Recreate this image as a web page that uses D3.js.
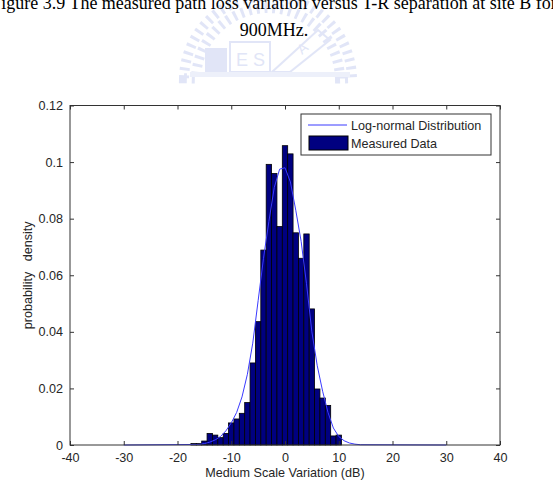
<!DOCTYPE html>
<html>
<head>
<meta charset="utf-8">
<script src="https://d3js.org/d3.v7.min.js"></script>
<style>
  body { margin: 0; background: #fff; }
  svg { display: block; }
  .caption { font-family: "Liberation Serif", "Times New Roman", serif; font-size: 18px; fill: #000; }
  .lbl { font-family: "Liberation Sans", Arial, sans-serif; font-size: 12.6px; fill: #262626; }
</style>
</head>
<body>
<div id="chart"></div>
<script>
// histogram bin centres (dB) and measured density
var binCenters = [-17, -16, -15, -14, -13, -12, -11, -10, -9, -8, -7, -6, -5, -4, -3, -2, -1, 0, 1, 2, 3, 4, 5, 6, 7, 8, 9, 10];
var density = [0.0005, 0.0005, 0.0014, 0.0041, 0.0035, 0.0026, 0.0041, 0.0078, 0.0092, 0.0112, 0.015, 0.029, 0.0436, 0.0689,
  0.0992, 0.096, 0.0772, 0.1058, 0.1029, 0.075, 0.066, 0.0746, 0.0481, 0.0198, 0.0166, 0.014, 0.0032, 0.0035];

// log-normal fit line
var curveX = [-30, -16, -15, -14, -13, -12, -11, -10, -9, -8, -7, -6, -5, -4, -3, -2, -1, 0, 1, 2, 3, 4, 5, 6, 7, 8, 9, 10, 11, 12, 13, 14, 30];
var curveY = [0, 0.0002, 0.0005, 0.001, 0.0018, 0.003, 0.005, 0.0078, 0.0115, 0.017, 0.025, 0.036, 0.051, 0.066, 0.079, 0.091,
  0.0975, 0.098, 0.093, 0.083, 0.072, 0.057, 0.04, 0.028, 0.019, 0.0115, 0.006, 0.003, 0.0015, 0.0007, 0.0003, 0.0001, 0];

var xTicks = [-40, -30, -20, -10, 0, 10, 20, 30, 40];
var xTickLabels = ["-40", "-30", "-20", "-10", "0", "10", "20", "30", "40"];
var yTicks = [0, 0.02, 0.04, 0.06, 0.08, 0.1, 0.12];
var yTickLabels = ["0", "0.02", "0.04", "0.06", "0.08", "0.1", "0.12"];
var legendLabels = ["Log-normal Distribution", "Measured Data"];

var width = 553,
  height = 480,
  margin = {left: 70, right: 53, top: 105.5, bottom: 35},
  svg = d3.select("#chart")
    .append("svg")
    .attr("width", width)
    .attr("height", height),
  xScale = d3.scaleLinear()
    .domain([-40, 40])
    .range([margin.left, width - margin.right]),
  yScale = d3.scaleLinear()
    .domain([0, 0.12])
    .range([height - margin.bottom, margin.top]);

// faint watermark logo behind the caption
var wm = svg.append("g").attr("opacity", 0.5);
wm.append("path")
  .attr("d", d3.arc()({innerRadius: 72, outerRadius: 84, startAngle: -1.55, endAngle: 1.55}))
  .attr("transform", "translate(268,80)")
  .attr("fill", "none")
  .attr("stroke", "#c4cdf0")
  .attr("stroke-width", 10)
  .attr("stroke-dasharray", "3,5");
wm.append("rect").attr("x", 205).attr("y", 48).attr("width", 22).attr("height", 24).attr("fill", "#c4cdf0");
wm.append("rect").attr("x", 230).attr("y", 42).attr("width", 40).attr("height", 30).attr("fill", "none").attr("stroke", "#c4cdf0").attr("stroke-width", 2);
wm.append("path").attr("d", "M272,72 L318,30 L330,40 L290,72 Z").attr("fill", "none").attr("stroke", "#c4cdf0").attr("stroke-width", 2);
wm.append("text").attr("x", 236).attr("y", 66).attr("font-family", "Liberation Sans").attr("font-size", 18).attr("fill", "#c4cdf0").text("E S");
wm.append("text").attr("x", 302).attr("y", 55).attr("font-family", "Liberation Sans").attr("font-size", 14).attr("fill", "#c4cdf0")
  .attr("transform", "rotate(-40,302,55)").text("A");
wm.append("rect").attr("x", 190).attr("y", 72).attr("width", 160).attr("height", 5).attr("fill", "#dde3f7");

// caption (first line runs off the page, as in the scanned original)
svg.append("text")
  .attr("class", "caption")
  .attr("x", 274)
  .attr("y", 9)
  .attr("text-anchor", "middle")
  .text("Figure 3.9 The measured path loss variation versus T-R separation at site B for");
svg.append("text")
  .attr("class", "caption")
  .attr("x", 274)
  .attr("y", 36)
  .attr("text-anchor", "middle")
  .text("900MHz.");

// plot background
svg.append("rect")
  .attr("x", margin.left)
  .attr("y", margin.top)
  .attr("width", xScale(40) - xScale(-40))
  .attr("height", yScale(0) - yScale(0.12))
  .attr("fill", "#fff");

var bars = binCenters.map(function (c, i) { return {c: c, v: density[i]}; });

svg.append("g").selectAll("rect")
  .data(bars)
  .enter()
  .append("rect")
  .attr("x", function (d) { return xScale(d.c - 0.5); })
  .attr("width", function (d) { return xScale(d.c + 0.5) - xScale(d.c - 0.5); })
  .attr("y", function (d) { return yScale(d.v); })
  .attr("height", function (d) { return yScale(0) - yScale(d.v); })
  .attr("fill", "#000080")
  .attr("stroke", "#000")
  .attr("stroke-width", 0.8);

var line = d3.line()
  .x(function (d) { return xScale(d[0]); })
  .y(function (d) { return yScale(d[1]); });

svg.append("path")
  .datum(curveX.map(function (x, i) { return [x, curveY[i]]; }))
  .attr("d", line)
  .attr("fill", "none")
  .attr("stroke", "#3a3aff")
  .attr("stroke-width", 1);

// axes, ticks pointing inward on all four sides
var tickLen = 4;
svg.append("g")
  .attr("transform", "translate(0," + yScale(0) + ")")
  .call(d3.axisBottom(xScale).tickValues(xTicks).tickSizeInner(-tickLen).tickSizeOuter(0).tickPadding(8)
    .tickFormat(function (d, i) { return xTickLabels[i]; }));
svg.append("g")
  .attr("transform", "translate(0," + yScale(0.12) + ")")
  .call(d3.axisTop(xScale).tickValues(xTicks).tickSizeInner(-tickLen).tickSizeOuter(0).tickFormat(""));
svg.append("g")
  .attr("transform", "translate(" + xScale(-40) + ",0)")
  .call(d3.axisLeft(yScale).tickValues(yTicks).tickSizeInner(-tickLen).tickSizeOuter(0).tickPadding(7)
    .tickFormat(function (d, i) { return yTickLabels[i]; }));
svg.append("g")
  .attr("transform", "translate(" + xScale(40) + ",0)")
  .call(d3.axisRight(yScale).tickValues(yTicks).tickSizeInner(-tickLen).tickSizeOuter(0).tickFormat(""));

svg.selectAll(".domain").remove();
svg.selectAll(".tick line").attr("stroke", "#333");
svg.selectAll(".tick text")
  .style("font-family", "Liberation Sans, Arial, sans-serif")
  .style("font-size", "12.6px")
  .attr("fill", "#262626");

svg.append("rect")
  .attr("x", xScale(-40))
  .attr("y", yScale(0.12))
  .attr("width", xScale(40) - xScale(-40))
  .attr("height", yScale(0) - yScale(0.12))
  .attr("fill", "none")
  .attr("stroke", "#333")
  .attr("stroke-width", 1);

// axis titles
svg.append("text")
  .attr("class", "lbl")
  .attr("x", xScale(0))
  .attr("y", 477)
  .attr("text-anchor", "middle")
  .text("Medium Scale Variation (dB)");
svg.append("text")
  .attr("class", "lbl")
  .attr("transform", "translate(32," + ((yScale(0) + yScale(0.12)) / 2) + ") rotate(-90)")
  .attr("text-anchor", "middle")
  .style("white-space", "pre")
  .text("probability   density");

// legend
var legend = svg.append("g").attr("transform", "translate(301,114)");
legend.append("rect")
  .attr("width", 190)
  .attr("height", 41)
  .attr("fill", "#fff")
  .attr("stroke", "#333");
legend.append("line")
  .attr("x1", 7).attr("x2", 46)
  .attr("y1", 11).attr("y2", 11)
  .attr("stroke", "#3a3aff");
legend.append("rect")
  .attr("x", 8).attr("y", 22)
  .attr("width", 39).attr("height", 14)
  .attr("fill", "#000080")
  .attr("stroke", "#000");
legend.selectAll("text.item")
  .data(legendLabels)
  .enter()
  .append("text")
  .attr("class", "lbl")
  .attr("x", 50)
  .attr("y", function (d, i) { return 15.5 + i * 18; })
  .text(function (d) { return d; });
</script>
</body>
</html>
